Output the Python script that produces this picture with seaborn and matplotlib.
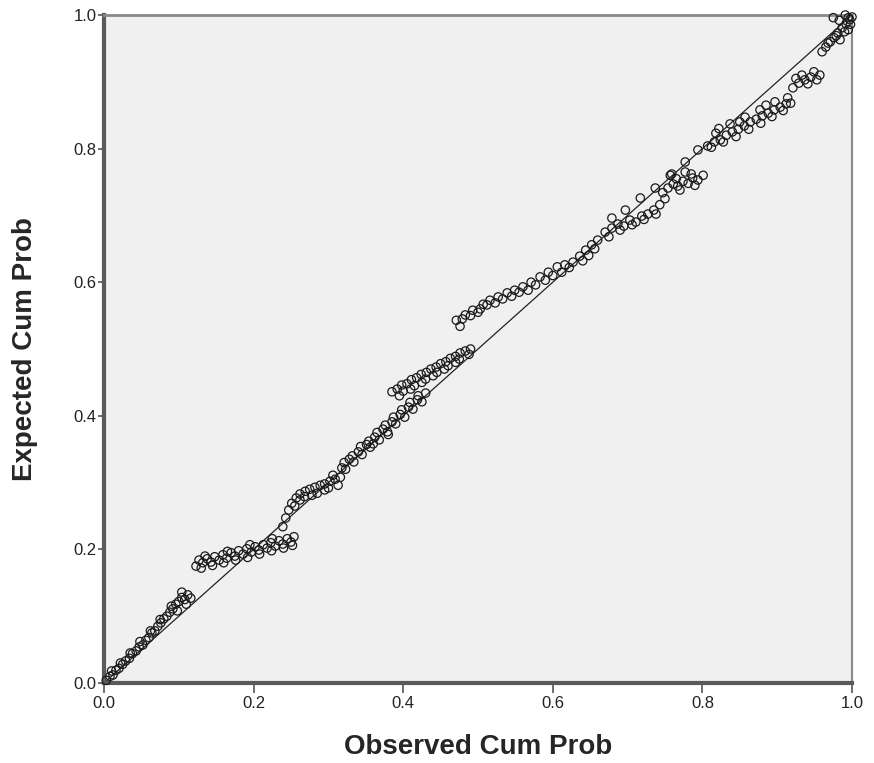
import seaborn as sns
import matplotlib.pyplot as plt
import pandas as pd

# observed / expected cumulative probabilities
obs_cum_prob = [
    # lower run
    0.003, 0.008, 0.012, 0.016, 0.020, 0.025, 0.029, 0.034, 0.038, 0.043,
    0.047, 0.052, 0.056, 0.060, 0.064, 0.068, 0.072, 0.076, 0.080, 0.084,
    0.088, 0.092, 0.096, 0.100, 0.104, 0.108, 0.112, 0.116,
    # first flat step
    0.123, 0.127, 0.132, 0.138, 0.143, 0.148, 0.154, 0.159, 0.164, 0.170,
    0.175, 0.180, 0.186, 0.191, 0.197, 0.202, 0.207, 0.213, 0.218, 0.223,
    0.229, 0.234, 0.239, 0.245, 0.250, 0.254,
    # climb back to the line
    0.239, 0.243, 0.247, 0.251, 0.257, 0.262, 0.262, 0.269, 0.275, 0.278,
    0.282, 0.289, 0.295, 0.295, 0.302, 0.309, 0.313, 0.316,
    # on the line
    0.318, 0.323, 0.328, 0.334, 0.340, 0.345, 0.351, 0.356, 0.362, 0.368,
    0.373, 0.379, 0.385, 0.390, 0.396, 0.402, 0.407, 0.413, 0.419, 0.425,
    0.430,
    # second run above the line
    0.385, 0.392, 0.395, 0.398, 0.405, 0.410, 0.411, 0.418, 0.424, 0.425,
    0.431, 0.437, 0.440, 0.444, 0.450, 0.455, 0.457, 0.463, 0.470, 0.470,
    0.476, 0.483, 0.490,
    # middle step
    0.471, 0.476, 0.483, 0.493, 0.500, 0.507, 0.516, 0.523, 0.527, 0.539,
    0.545, 0.549, 0.560, 0.567, 0.571, 0.583, 0.590, 0.594, 0.606, 0.612,
    0.616, 0.627, 0.636, 0.644, 0.652, 0.660,
    # upper part
    0.670, 0.679, 0.679, 0.687, 0.695, 0.697, 0.703, 0.711, 0.717, 0.719,
    0.727, 0.735, 0.737, 0.743, 0.757, 0.777, 0.794,
    0.747, 0.754, 0.759, 0.761, 0.767, 0.774, 0.777, 0.781, 0.787, 0.794,
    0.801,
    # run below the line
    0.807, 0.816, 0.818, 0.824, 0.832, 0.837, 0.840, 0.848, 0.856, 0.857,
    0.864, 0.872, 0.877, 0.880, 0.888, 0.896, 0.897, 0.904, 0.912, 0.914,
    0.918,
    0.921, 0.929, 0.933, 0.937, 0.945, 0.949, 0.953,
    # top end
    0.960, 0.965, 0.971, 0.975, 0.976, 0.981, 0.984, 0.987, 0.991, 0.992,
    0.995, 0.997, 1.000,
    # overlapping cases (second row of each cluster)
    0.010, 0.022, 0.035, 0.048, 0.062, 0.075, 0.090, 0.104, 0.110, 0.098,
    0.130, 0.145, 0.160, 0.176, 0.192, 0.208, 0.224, 0.240, 0.252, 0.135,
    0.165, 0.195, 0.225,
    0.255, 0.268, 0.285, 0.300, 0.306,
    0.321, 0.332, 0.343, 0.354, 0.365, 0.376, 0.387, 0.398, 0.409, 0.420,
    0.360, 0.380,
    0.400, 0.415, 0.430, 0.445, 0.460, 0.475, 0.488,
    0.479, 0.490, 0.503, 0.512, 0.533, 0.555, 0.577, 0.600, 0.622, 0.640,
    0.648, 0.656,
    0.675, 0.690, 0.706, 0.722, 0.738, 0.750, 0.765, 0.785, 0.790, 0.770,
    0.812, 0.828, 0.845, 0.862, 0.878, 0.893, 0.908, 0.822, 0.850, 0.885,
    0.925, 0.941, 0.957,
    0.968, 0.979, 0.990, 0.998, 0.983, 0.995,
]

exp_cum_prob = [
    0.004, 0.010, 0.012, 0.019, 0.022, 0.028, 0.033, 0.037, 0.044, 0.048,
    0.054, 0.057, 0.064, 0.068, 0.075, 0.078, 0.085, 0.090, 0.096, 0.100,
    0.106, 0.111, 0.118, 0.122, 0.128, 0.125, 0.132, 0.127,
    0.175, 0.184, 0.180, 0.186, 0.181, 0.189, 0.184, 0.192, 0.187, 0.195,
    0.190, 0.198, 0.193, 0.201, 0.196, 0.204, 0.199, 0.207, 0.202, 0.210,
    0.205, 0.213, 0.208, 0.216, 0.211, 0.219,
    0.234, 0.247, 0.259, 0.269, 0.277, 0.283, 0.274, 0.287, 0.290, 0.281,
    0.293, 0.296, 0.298, 0.289, 0.302, 0.305, 0.296, 0.308,
    0.322, 0.320, 0.335, 0.331, 0.346, 0.342, 0.357, 0.353, 0.368, 0.364,
    0.380, 0.376, 0.391, 0.388, 0.402, 0.398, 0.413, 0.410, 0.424, 0.421,
    0.434,
    0.436, 0.440, 0.430, 0.446, 0.448, 0.440, 0.454, 0.457, 0.462, 0.450,
    0.465, 0.470, 0.460, 0.473, 0.478, 0.470, 0.481, 0.486, 0.489, 0.480,
    0.494, 0.497, 0.500,
    0.543, 0.534, 0.551, 0.558, 0.555, 0.567, 0.573, 0.569, 0.578, 0.584,
    0.579, 0.588, 0.593, 0.588, 0.600, 0.608, 0.603, 0.615, 0.623, 0.615,
    0.626, 0.630, 0.639, 0.648, 0.656, 0.663,
    0.675, 0.681, 0.696, 0.687, 0.684, 0.708, 0.693, 0.690, 0.726, 0.699,
    0.702, 0.708, 0.741, 0.716, 0.760, 0.780, 0.798,
    0.734, 0.741, 0.762, 0.747, 0.744, 0.751, 0.765, 0.748, 0.756, 0.753,
    0.760,
    0.804, 0.810, 0.823, 0.813, 0.820, 0.837, 0.825, 0.829, 0.834, 0.847,
    0.840, 0.844, 0.858, 0.849, 0.853, 0.858, 0.870, 0.862, 0.867, 0.876,
    0.868,
    0.891, 0.898, 0.910, 0.903, 0.907, 0.915, 0.903,
    0.945, 0.952, 0.960, 0.996, 0.966, 0.973, 0.963, 0.981, 1.000, 0.987,
    0.978, 0.993, 0.997,
    0.018, 0.030, 0.045, 0.062, 0.078, 0.095, 0.115, 0.136, 0.118, 0.108,
    0.172, 0.176, 0.180, 0.184, 0.188, 0.193, 0.198, 0.202, 0.206, 0.190,
    0.197, 0.207, 0.216,
    0.265, 0.279, 0.284, 0.292, 0.311,
    0.330, 0.340, 0.354, 0.362, 0.375, 0.386, 0.398, 0.409, 0.420, 0.430,
    0.358, 0.372,
    0.437, 0.445, 0.455, 0.465, 0.475, 0.485, 0.492,
    0.545, 0.550, 0.560, 0.566, 0.575, 0.585, 0.596, 0.610, 0.622, 0.632,
    0.640, 0.650,
    0.668, 0.678, 0.686, 0.694, 0.702, 0.725, 0.755, 0.762, 0.745, 0.738,
    0.802, 0.810, 0.818, 0.829, 0.838, 0.848, 0.857, 0.830, 0.840, 0.865,
    0.905, 0.897, 0.910,
    0.958, 0.969, 0.975, 0.986, 0.992, 0.996,
]

ref_line = [0.0, 1.0]
ticks = [0.0, 0.2, 0.4, 0.6, 0.8, 1.0]
tick_labels = ["0.0", "0.2", "0.4", "0.6", "0.8", "1.0"]

sns.set_theme(style="white", rc={"axes.facecolor": "#f0f0f0"})
plt.rcParams["font.family"] = ["Liberation Sans", "DejaVu Sans"]

fig = plt.figure(figsize=(8.74, 7.63), dpi=100)
ax = fig.add_axes([104 / 874, 80 / 763, 748 / 874, 668 / 763])

df = pd.DataFrame({"obs": obs_cum_prob, "exp": exp_cum_prob})

# diagonal reference line
sns.lineplot(x=ref_line, y=ref_line, color="#222222", linewidth=0.9, ax=ax, zorder=2)

# open circles
sns.scatterplot(data=df, x="obs", y="exp", ax=ax, marker="o", s=36,
                facecolor="none", edgecolor="#1a1a1a", linewidth=0.9,
                clip_on=False, zorder=3)

ax.set_xlim(0, 1)
ax.set_ylim(0, 1)
ax.set_xticks(ticks, tick_labels, fontsize=12, color="#222222")
ax.set_yticks(ticks, tick_labels, fontsize=12, color="#222222")
ax.tick_params(axis="x", direction="out", length=7, width=1.2,
               color="#555555", pad=2, bottom=True)
ax.tick_params(axis="y", direction="out", length=4.5, width=1.2,
               color="#555555", pad=1, left=True)

ax.set_xlabel("Observed Cum Prob", fontsize=20, fontweight="bold", va="center")
ax.set_ylabel("Expected Cum Prob", fontsize=20, fontweight="bold", va="center")
ax.xaxis.set_label_coords(0.5, -0.096)
ax.yaxis.set_label_coords(-0.106, 0.5)

# SPSS style frame
for side in ["left", "bottom"]:
    ax.spines[side].set_color("#5a5a5a")
    ax.spines[side].set_linewidth(3)
ax.spines["top"].set_color("#8a8a8a")
ax.spines["top"].set_linewidth(2)
ax.spines["right"].set_color("#8a8a8a")
ax.spines["right"].set_linewidth(1.5)

fig.savefig("out.png", dpi=100, facecolor="white")
